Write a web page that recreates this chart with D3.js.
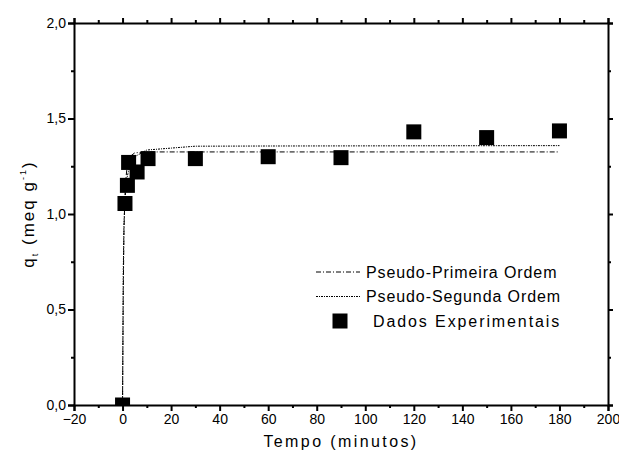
<!DOCTYPE html>
<html>
<head>
<meta charset="utf-8">
<script src="https://cdn.jsdelivr.net/npm/d3@7"></script>
<style>
  html, body { margin: 0; padding: 0; background: #fff; }
  svg text { font-family: Arial, "Liberation Sans", Helvetica, sans-serif; fill: #000; }
</style>
</head>
<body>
<div id="chart"></div>
<script>
// experimental points (tempo in minutos, q_t in meq/g)
const expTime = [0, 1, 2, 2.5, 6, 10.5, 30, 60, 90, 120, 150, 180];
const expQ    = [0, 1.055, 1.15, 1.27, 1.22, 1.29, 1.29, 1.30, 1.295, 1.43, 1.40, 1.435];

// model curves
const pfoTime = [0, 0.3, 0.6, 1, 1.5, 2, 3, 5, 10, 20, 180];
const pfoQ    = [0, 0.6, 0.92, 1.1, 1.2, 1.26, 1.3, 1.32, 1.325, 1.325, 1.325];
const psoTime = [0, 0.3, 0.6, 1, 2, 3, 5, 10, 20, 30, 60, 180];
const psoQ    = [0, 0.7, 0.95, 1.08, 1.2, 1.25, 1.3, 1.335, 1.345, 1.355, 1.356, 1.358];

const xTicks = [-20, 0, 20, 40, 60, 80, 100, 120, 140, 160, 180, 200];
const yTicks = [0, 0.5, 1.0, 1.5, 2.0];
const legendLabels = ["Pseudo-Primeira Ordem", "Pseudo-Segunda Ordem", "Dados Experimentais"];

const W = 619, H = 461;
const M = { top: 23, right: 11, bottom: 56, left: 74 };
const iW = W - M.left - M.right;
const iH = H - M.top - M.bottom;
const FONT = 'Arial, "Liberation Sans", Helvetica, sans-serif';

const svg = d3.select("#chart").append("svg")
  .attr("width", W).attr("height", H);

const g = svg.append("g").attr("transform", `translate(${M.left},${M.top})`);

const x = d3.scaleLinear().domain([-20, 200]).range([0, iW]);
const y = d3.scaleLinear().domain([0, 2]).range([iH, 0]);
const fmt = d => d3.format(".1f")(d).replace(".", ",");

g.append("clipPath").attr("id", "clip")
  .append("rect").attr("width", iW).attr("height", iH);

// curves
const line = d3.line().x(d => x(d[0])).y(d => y(d[1]));
const plot = g.append("g").attr("clip-path", "url(#clip)");

plot.append("path")
  .datum(pfoTime.map((t, i) => [t, pfoQ[i]]))
  .attr("fill", "none").attr("stroke", "#000").attr("stroke-width", 1)
  .attr("stroke-dasharray", "5,2,1,2")
  .attr("d", line);

plot.append("path")
  .datum(psoTime.map((t, i) => [t, psoQ[i]]))
  .attr("fill", "none").attr("stroke", "#000").attr("stroke-width", 1)
  .attr("stroke-dasharray", "2,1,1,1")
  .attr("d", line);

// squares
const S = 15;
plot.selectAll("rect.pt")
  .data(expTime.map((t, i) => [t, expQ[i]]))
  .enter().append("rect")
  .attr("class", "pt")
  .attr("x", d => x(d[0]) - S / 2)
  .attr("y", d => y(d[1]) - S / 2)
  .attr("width", S).attr("height", S)
  .attr("fill", "#000");

// axes, ticks point outward on every side
function styleAxis(ax) {
  ax.attr("font-family", FONT).attr("font-size", 14);
  ax.select(".domain").attr("stroke-width", 2);
  ax.selectAll(".tick line").attr("stroke-width", 2);
}
const minorTicks = ax => ax.call(a => a.select(".domain").remove())
  .call(a => a.selectAll(".tick line").attr("stroke-width", 2));
const xMinor = d3.range(-10, 200, 20);
const yMinor = [0.25, 0.75, 1.25, 1.75];

g.append("g").attr("transform", `translate(0,${iH})`)
  .call(d3.axisBottom(x).tickValues(xTicks).tickFormat(d3.format("d")).tickSize(6).tickPadding(3))
  .call(styleAxis);
g.append("g").attr("transform", `translate(0,${iH})`)
  .call(d3.axisBottom(x).tickValues(xMinor).tickFormat("").tickSize(3))
  .call(minorTicks);

g.append("g")
  .call(d3.axisTop(x).tickValues(xTicks).tickFormat("").tickSize(5))
  .call(styleAxis);
g.append("g")
  .call(d3.axisTop(x).tickValues(xMinor).tickFormat("").tickSize(3))
  .call(minorTicks);

g.append("g")
  .call(d3.axisLeft(y).tickValues(yTicks).tickFormat(fmt).tickSize(6).tickPadding(2))
  .call(styleAxis);
g.append("g")
  .call(d3.axisLeft(y).tickValues(yMinor).tickFormat("").tickSize(3))
  .call(minorTicks);

g.append("g").attr("transform", `translate(${iW},0)`)
  .call(d3.axisRight(y).tickValues(yTicks).tickFormat("").tickSize(5))
  .call(styleAxis);
g.append("g").attr("transform", `translate(${iW},0)`)
  .call(d3.axisRight(y).tickValues(yMinor).tickFormat("").tickSize(3))
  .call(minorTicks);

// axis titles
svg.append("text")
  .attr("x", M.left + x(90)).attr("y", 447)
  .attr("text-anchor", "middle")
  .style("font-size", "16px").style("letter-spacing", "2.4px")
  .text("Tempo (minutos)");

const yl = svg.append("text")
  .attr("transform", `translate(34,${M.top + y(1)}) rotate(-90)`)
  .attr("text-anchor", "middle")
  .style("font-size", "17px").style("letter-spacing", "2px");
yl.append("tspan").text("q");
yl.append("tspan").attr("dy", 4).style("font-size", "9px").text("t");
yl.append("tspan").attr("dy", -4).text(" (meq g");
yl.append("tspan").attr("dy", -8).style("font-size", "9px").text("-1");
yl.append("tspan").attr("dy", 8).text(")");

// legend
const lg = svg.append("g").attr("transform", "translate(316,272)");
const dashes = ["5,2,1,2", "2,1,1,1"];
const spacing = [0.9, 0.9, 1.9];
legendLabels.forEach((lab, i) => {
  const yy = i * 24.5;
  if (i < 2) {
    lg.append("line")
      .attr("x1", 0).attr("x2", 44).attr("y1", yy).attr("y2", yy)
      .attr("stroke", "#000").attr("stroke-width", 1)
      .attr("stroke-dasharray", dashes[i]);
  } else {
    lg.append("rect")
      .attr("x", 24 - S / 2).attr("y", yy - S / 2)
      .attr("width", S).attr("height", S).attr("fill", "#000");
  }
  lg.append("text")
    .attr("x", i < 2 ? 50 : 57).attr("y", yy + 5.5)
    .style("font-size", "16px").style("letter-spacing", spacing[i] + "px")
    .text(lab);
});
</script>
</body>
</html>
